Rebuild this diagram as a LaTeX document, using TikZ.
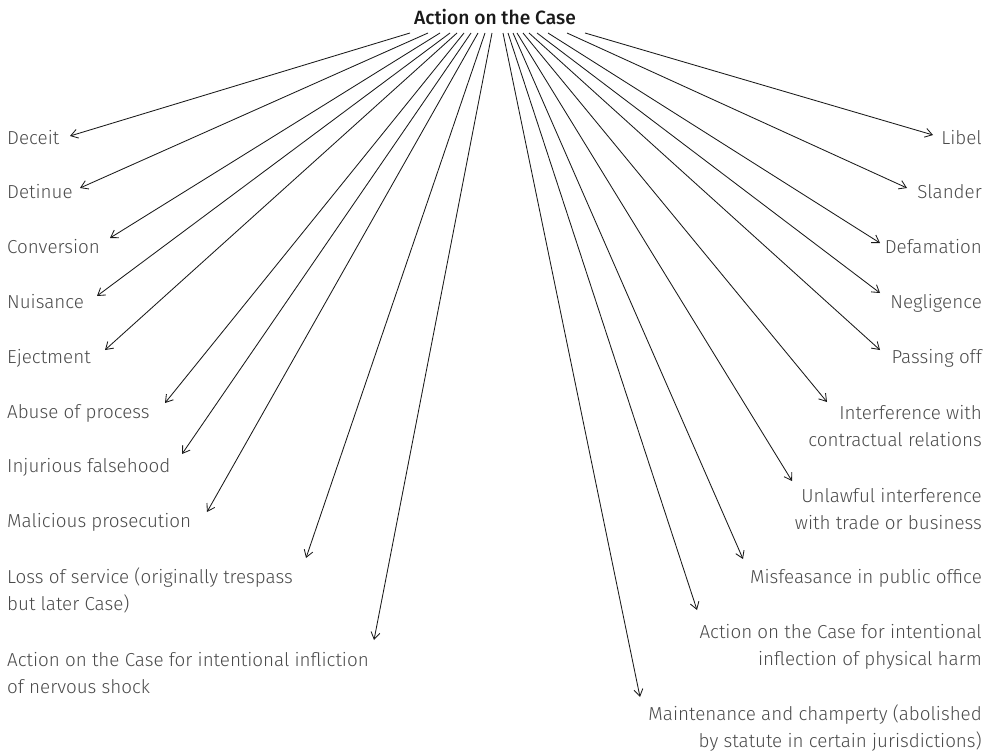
\documentclass[tikz,border=0pt]{standalone}
\usepackage{fontspec}
\setmainfont{Fira Sans}[UprightFont=* Light, BoldFont=* Medium]
\usepackage{tikz}
\usetikzlibrary{arrows.meta}
\definecolor{labelgrey}{HTML}{4A4A4A}
\definecolor{linedark}{HTML}{1A1A1A}

\begin{document}
\begin{tikzpicture}[x=1pt, y=-1pt,
    leaf/.style={text=labelgrey, font=\fontsize{18.8}{27}\selectfont, inner sep=0pt},
    branch/.style={draw=linedark, line width=0.85pt,
      -{Straight Barb[length=7pt, width=9pt, line width=0.85pt]}}]
  \useasboundingbox (0,0) rectangle (987,752);

  % root
  \node[font=\bfseries\fontsize{19.2}{22}\selectfont, text=linedark] (root) at (495,17) {Action on the Case};

  % left column
  \node[leaf, anchor=base west] (deceit) at (7,144) {Deceit};
  \node[leaf, anchor=base west] (detinue) at (7,198) {Detinue};
  \node[leaf, anchor=base west] (conversion) at (7,253) {Conversion};
  \node[leaf, anchor=base west] (nuisance) at (7,308) {Nuisance};
  \node[leaf, anchor=base west] (ejectment) at (7,363) {Ejectment};
  \node[leaf, anchor=base west] (abuse) at (7,418) {Abuse of process};
  \node[leaf, anchor=base west] (injurious) at (7,472) {Injurious falsehood};
  \node[leaf, anchor=base west] (malicious) at (7,527) {Malicious prosecution};
  \node[leaf, anchor=base west, align=left] (loss) at (7,610)
    {Loss of service (originally trespass\\but later Case)};
  \node[leaf, anchor=base west, align=left] (nervous) at (7,693)
    {Action on the Case for intentional infliction\\of nervous shock};

  % right column
  \node[leaf, anchor=base east] (libel) at (982,144) {Libel};
  \node[leaf, anchor=base east] (slander) at (982,198) {Slander};
  \node[leaf, anchor=base east] (defamation) at (982,253) {Defamation};
  \node[leaf, anchor=base east] (negligence) at (982,308) {Negligence};
  \node[leaf, anchor=base east] (passing) at (982,363) {Passing off};
  \node[leaf, anchor=base east, align=right] (interference) at (982,446)
    {Interference with\\contractual relations};
  \node[leaf, anchor=base east, align=right] (unlawful) at (982,529)
    {Unlawful interference\\with trade or business};
  \node[leaf, anchor=base east] (misfeasance) at (982,583) {Misfeasance in public office};
  \node[leaf, anchor=base east, align=right] (physical) at (982,665)
    {Action on the Case for intentional\\inflection of physical harm};
  \node[leaf, anchor=base east, align=right] (maintenance) at (982,747)
    {Maintenance and champerty (abolished\\by statute in certain jurisdictions)};

  % arrow tips
  \coordinate (deceit-tip) at (70,136);
  \coordinate (detinue-tip) at (80,188);
  \coordinate (conversion-tip) at (110,238);
  \coordinate (nuisance-tip) at (97,296);
  \coordinate (ejectment-tip) at (105,350);
  \coordinate (abuse-tip) at (165,403);
  \coordinate (injurious-tip) at (182,454);
  \coordinate (malicious-tip) at (207,512);
  \coordinate (loss-tip) at (306,558);
  \coordinate (nervous-tip) at (374,640);
  \coordinate (libel-tip) at (933,135);
  \coordinate (slander-tip) at (907,188);
  \coordinate (defamation-tip) at (880,243);
  \coordinate (negligence-tip) at (880,293);
  \coordinate (passing-tip) at (880,350);
  \coordinate (interference-tip) at (827,402);
  \coordinate (unlawful-tip) at (792,481);
  \coordinate (misfeasance-tip) at (743,559);
  \coordinate (physical-tip) at (697,610);
  \coordinate (maintenance-tip) at (640,697);

  % branches
  \foreach \n/\sx in {deceit/410, detinue/428, conversion/440, nuisance/450,
      ejectment/457, abuse/464, injurious/471, malicious/478, loss/485, nervous/492,
      maintenance/503, physical/508, misfeasance/513, unlawful/517, interference/523,
      passing/529, negligence/537, defamation/548, slander/567, libel/585} {
    \coordinate (\n-top) at (\sx,33);
    \draw[branch] (\n-top) -- (\n-tip);
  }
\end{tikzpicture}
\end{document}
